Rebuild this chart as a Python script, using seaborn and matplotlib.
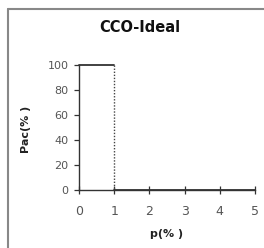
import pandas as pd
import matplotlib
matplotlib.use('Agg')
import matplotlib.pyplot as plt
import seaborn as sns

# Data: ideal curve Pac(%) vs p(%)
p_high = [0, 1]
pac_high = [100, 100]
p_drop = [1, 1]
pac_drop = [100, 0]
p_low = [1, 5]
pac_low = [0, 0]
x_ticks = [0, 1, 2, 3, 4, 5]
y_ticks = [0, 20, 40, 60, 80, 100]

sns.set_style('white')
plt.rcParams['font.family'] = ['DejaVu Sans']

fig = plt.figure(figsize=(2.64, 2.48), dpi=100)
ax = fig.add_axes([79 / 264, 1 - 190 / 248, 176 / 264, 125 / 248])

line_col = '#333333'
sns.lineplot(x=p_high, y=pac_high, ax=ax, color=line_col, linewidth=1.3, clip_on=False)
sns.lineplot(x=p_low, y=pac_low, ax=ax, color=line_col, linewidth=1.3, clip_on=False)
# dotted drop at p = 1
ax.plot(p_drop, pac_drop, color='#444444', linewidth=1.0,
        linestyle=(0, (1, 1.2)), clip_on=False, zorder=3)

ax.set_xlim(0, 5)
ax.set_ylim(0, 100)
ax.set_xticks(x_ticks)
ax.set_yticks(y_ticks)
ax.tick_params(axis='x', direction='inout', length=6, width=0.9, colors='#333333',
               labelcolor='#555555', labelsize=9, pad=8, bottom=True)
ax.tick_params(axis='y', direction='out', length=3.5, width=0.9, colors='#333333',
               labelcolor='#555555', labelsize=8, pad=4, left=True)

for side in ['top', 'right']:
    ax.spines[side].set_visible(False)
for side in ['left', 'bottom']:
    ax.spines[side].set_color('#333333')
    ax.spines[side].set_linewidth(1.0)

ax.set_xlabel('p(% )', fontsize=8, fontweight='bold', color='#222222')
ax.set_ylabel('Pac(% )', fontsize=8, fontweight='bold', color='#222222')
ax.xaxis.set_label_coords((167 - 79) / 176, -(234 - 190) / 125)
ax.yaxis.set_label_coords(-(79 - 26) / 176, (190 - 129) / 125)
ax.xaxis.label.set_va('center')
ax.yaxis.label.set_va('center')

fig.text(139.5 / 264, 1 - 27 / 248, 'CCO-Ideal', ha='center', va='center',
         fontsize=10.5, fontweight='bold', color='#111111')

# outer frame (left and top edges visible)
fig.add_artist(plt.Line2D([7.5 / 264, 7.5 / 264], [0, 1 - 8.5 / 248],
                          transform=fig.transFigure, color='#888888', linewidth=1.5))
fig.add_artist(plt.Line2D([7.5 / 264, 1], [1 - 8.5 / 248, 1 - 8.5 / 248],
                          transform=fig.transFigure, color='#888888', linewidth=1.5))

fig.savefig('out.png', dpi=100)
